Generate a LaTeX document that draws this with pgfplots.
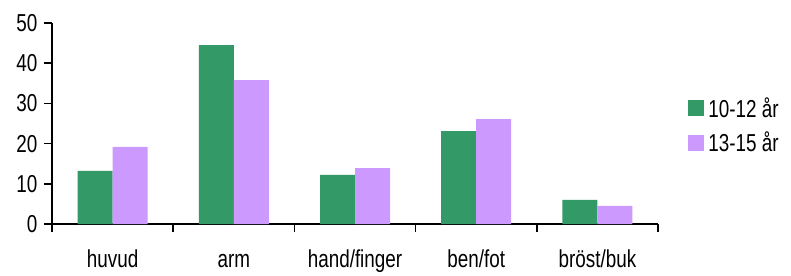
\documentclass[border=0pt]{standalone}
\usepackage{pgfplots}
\pgfplotsset{compat=1.18}
\usepackage{fontspec}
\setmainfont[FakeStretch=0.77]{Liberation Sans}
\definecolor{cgreen}{RGB}{51,153,102}
\definecolor{clilac}{RGB}{204,153,255}
\begin{document}
\begin{tikzpicture}
\begin{axis}[
  name=ax,
  scale only axis,
  width=606pt, height=201pt,
  xmin=-0.5, xmax=4.5,
  ymin=0, ymax=50,
  ytick={0,10,20,30,40,50},
  xtick={-0.5,0.5,1.5,2.5,3.5,4.5},
  xticklabels={},
  extra x ticks={0,1,2,3,4},
  extra x tick labels={huvud,arm,hand/finger,ben/fot,br\"ost/buk},
  extra x tick style={major tick length=0pt, xticklabel style={yshift=-22pt, text height=18pt, text depth=5pt}},
  axis lines*=left,
  axis line style={line width=1.6pt, black},
  tick style={line width=1.6pt, black},
  major tick length=8pt,
  tick align=outside,
  font=\fontsize{24.5}{27}\selectfont,
  /pgf/number format/assume math mode=true,
  yticklabel style={xshift=-3pt},
  ybar=0pt,
  bar width=35pt,
  legend style={draw=none, fill=none, at={(1.045,0.49)}, anchor=west,
    font=\fontsize{24.5}{27}\selectfont, row sep=9pt, column sep=2pt,
    nodes={inner sep=2pt}},
  legend cell align=left,
  legend image code/.code={\fill[#1] (0pt,-8pt) rectangle (16pt,8pt);},
]
\addplot[fill=cgreen, draw=none] coordinates {(0,13.2) (1,44.5) (2,12.2) (3,23.1) (4,6.0)};
\addplot[fill=clilac, draw=none] coordinates {(0,19.2) (1,35.8) (2,13.9) (3,26.1) (4,4.5)};
\legend{10-12 år,13-15 år}
\end{axis}
\path (ax.south west) ++(-52pt,-49pt) rectangle ++(791pt,273pt);
\end{tikzpicture}
\end{document}
